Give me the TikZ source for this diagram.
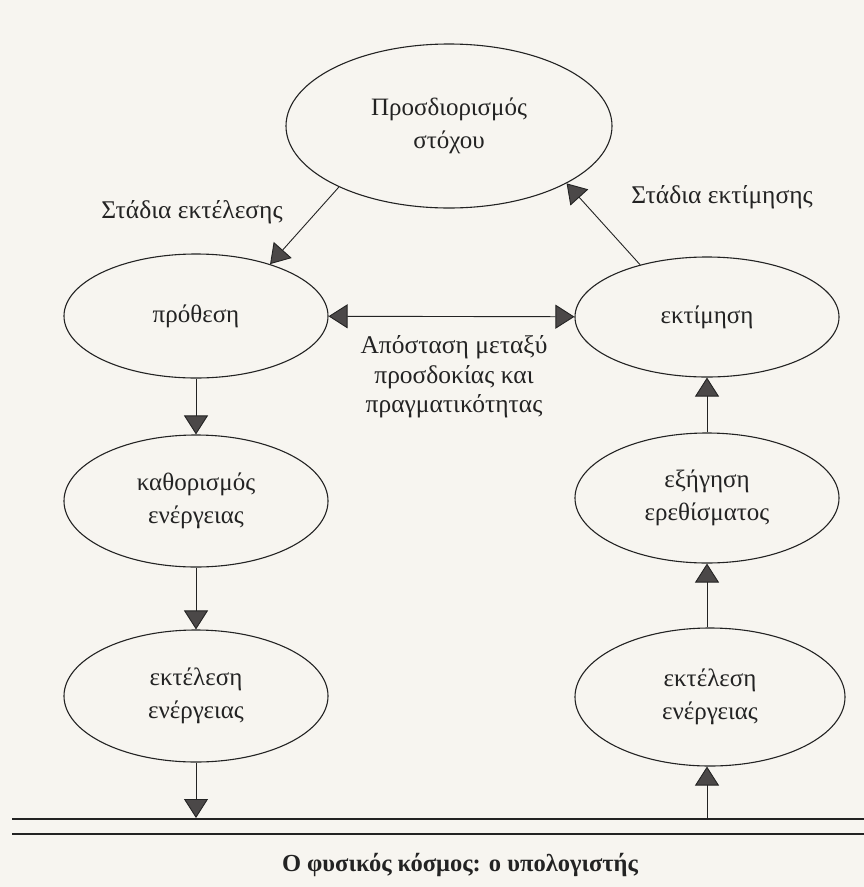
\documentclass[tikz,border=0pt]{standalone}
\usepackage{fontspec}
\setmainfont{Liberation Serif}
\usepackage{xcolor}
\usetikzlibrary{arrows, arrows.meta}
\usetikzlibrary{shapes.geometric, positioning, calc}

\definecolor{paper}{RGB}{247,245,240}
\definecolor{ink}{RGB}{35,35,35}
\definecolor{tipgray}{RGB}{75,72,72}

\tikzset{
  stage/.style={ellipse, draw=ink, line width=1.1pt, minimum width=264pt, minimum height=128pt, inner sep=0pt, align=center, text=ink, font=\fontsize{25}{33}\selectfont},
  tip/.tip={Triangle[width=24pt, length=19pt, fill=tipgray]},
  flow/.style={-tip, draw=ink, line width=0.9pt},
  caption/.style={text=ink, align=center, font=\fontsize{25.5}{30}\selectfont},
}

\begin{document}
\begin{tikzpicture}[x=1pt, y=-1pt]
      \useasboundingbox[fill=paper] (0, 0) rectangle (864, 887);

      \node[stage, minimum width=326pt, minimum height=164pt] (goal) at (449, 126) {Προσδιορισμός\\στόχου};

      \node[stage, minimum height=124pt] (intent) at (196, 316) {πρόθεση};
      \node[stage, minimum height=132pt] (spec) at (196, 501) {καθορισμός\\ενέργειας};
      \node[stage, minimum height=132pt] (execL) at (196, 696) {εκτέλεση\\ενέργειας};

      \node[stage, minimum height=120pt] (evalR) at (707, 317) {εκτίμηση};
      \node[stage, minimum height=130pt] (interp) at (707, 498) {εξήγηση\\ερεθίσματος};
      \node[stage, minimum width=270pt, minimum height=138pt] (execR) at (710, 697) {εκτέλεση\\ενέργειας};

      \draw[ink, line width=1.4pt] (12, 819) -- (864, 819);
      \draw[ink, line width=1.4pt] (12, 834) -- (864, 834);
      \coordinate (worldL) at (196, 818);
      \coordinate (worldR) at (707, 818);

      \draw[flow] (goal.209) -- (intent.35);
      \draw[flow] (intent) -- (spec);
      \draw[flow] (spec) -- (execL);
      \draw[flow] (execL) -- (worldL);

      \draw[flow] (worldR) -- (worldR |- execR.south);
      \draw[flow] (execR.north -| interp.south) -- (interp);
      \draw[flow] (interp) -- (evalR);
      \draw[flow] (evalR.142) -- (goal.334);

      \draw[flow, tip-tip] (intent) -- (evalR);

      \node[caption] (execlabel) at (192, 212) {Στάδια εκτέλεσης};
      \node[caption] (evallabel) at (722, 197) {Στάδια εκτίμησης};
      \node[caption, font=\fontsize{25.5}{29.5}\selectfont] (gap) at (454, 377) {Απόσταση μεταξύ\\προσδοκίας και\\πραγματικότητας};
      \node[caption, font=\fontsize{24.5}{30}\selectfont\bfseries] (world) at (460, 865) {Ο φυσικός κόσμος: ο υπολογιστής};

    \end{tikzpicture}
\end{document}
